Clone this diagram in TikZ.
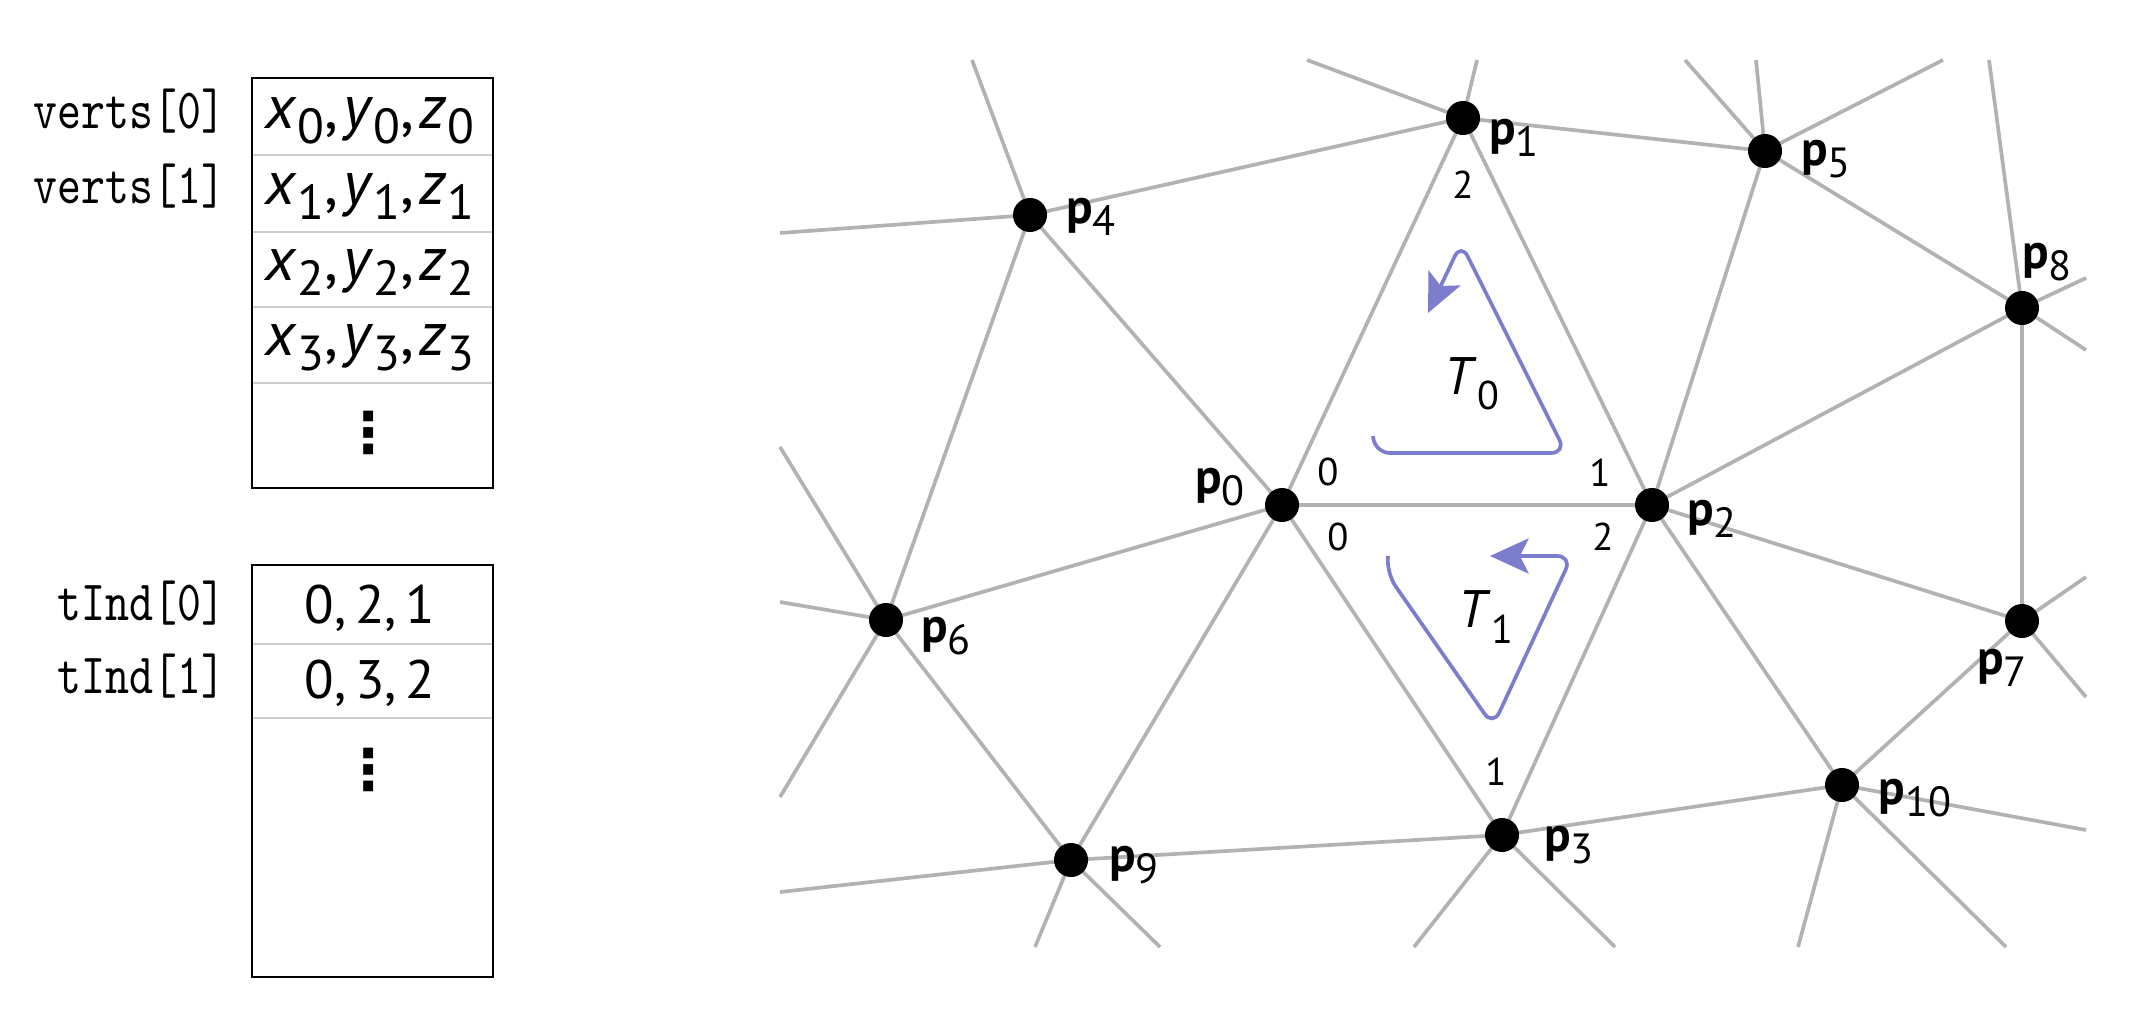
\documentclass[tikz,border=0pt]{standalone}
\usepackage{fontspec}
\setmainfont{PT Sans}
\newfontfamily\dotsfam{DejaVu Sans}
\newfontfamily\monofam[FakeStretch=0.8]{lmmono10-regular.otf}
\usetikzlibrary{arrows.meta}
\definecolor{edgegray}{RGB}{178,178,178}
\definecolor{flowc}{RGB}{125,125,205}
\definecolor{sepgray}{RGB}{205,205,205}
\newcommand{\plab}[1]{\textbf{p}\raisebox{-3.4pt}{\fontsize{12}{14}\selectfont #1}}
\newcommand{\tlab}[1]{\textit{T}\raisebox{-4.3pt}{\fontsize{11.4}{13}\selectfont #1}}
\newcommand{\xyzsub}[1]{\raisebox{-4.3pt}{\fontsize{14}{16}\selectfont #1}}
\newcommand{\xyzrow}[1]{\textit{x}\xyzsub{#1},\kern1.5pt\textit{y}\xyzsub{#1},\kern1.5pt\textit{z}\xyzsub{#1}}
\begin{document}
\begin{tikzpicture}[x=0.01cm, y=-0.01cm,
  edge/.style={draw=edgegray, line width=1.05pt},
  dot/.style={circle, fill=black, inner sep=0pt, minimum size=0.34cm},
  plabel/.style={inner sep=0pt, font=\fontsize{14}{16}\selectfont},
  corner/.style={inner sep=0pt, font=\fontsize{11}{13}\selectfont},
  tri/.style={inner sep=0pt, font=\fontsize{15}{18}\selectfont},
  flow/.style={draw=flowc, line width=1.05pt, rounded corners=0.15cm,
    -{Stealth[length=11pt,width=10pt,inset=2.5pt]}},
  boxline/.style={draw=black, line width=0.8pt},
  sepline/.style={draw=sepgray, line width=0.6pt},
  celltext/.style={inner sep=0pt, anchor=base, font=\fontsize{17.6}{20}\selectfont},
  idxtext/.style={inner sep=0pt, anchor=base, font=\fontsize{15.4}{18}\selectfont},
  monotext/.style={inner sep=0pt, anchor=base east, font=\monofam\fontsize{16.2}{18}\selectfont},
  dotstext/.style={inner sep=0pt, font=\dotsfam\bfseries\fontsize{16}{18}\selectfont}]
\useasboundingbox (0,0) rectangle (2134,1018);

% ---------- left: vertex table ----------
\draw[sepline] (252,155) -- (493,155);
\draw[sepline] (252,232) -- (493,232);
\draw[sepline] (252,307) -- (493,307);
\draw[sepline] (252,383) -- (493,383);
\draw[boxline] (252,78) rectangle (493,488);
\node[celltext] (v0) at (370,128) {\xyzrow{0}};
\node[celltext] (v1) at (370,204) {\xyzrow{1}};
\node[celltext] (v2) at (370,280) {\xyzrow{2}};
\node[celltext] (v3) at (370,355) {\xyzrow{3}};
\node[dotstext] (vd) at (369,433) {⋮};
\node[monotext] (lv0) at (226,128) {verts[0]};
\node[monotext] (lv1) at (226,203) {verts[1]};

% ---------- left: index table ----------
\draw[sepline] (252,644) -- (493,644);
\draw[sepline] (252,718) -- (493,718);
\draw[boxline] (252,565) rectangle (493,977);
\node[idxtext] (t0) at (370,623) {0,\,2,\,1};
\node[idxtext] (t1) at (370,698) {0,\,3,\,2};
\node[dotstext] (td) at (369,770) {⋮};
\node[monotext] (lt0) at (226,620) {tInd[0]};
\node[monotext] (lt1) at (226,693) {tInd[1]};

% ---------- mesh points ----------
\coordinate (p0) at (1282,505);
\coordinate (p1) at (1463,118);
\coordinate (p2) at (1652,505);
\coordinate (p3) at (1502,835);
\coordinate (p4) at (1030,215);
\coordinate (p5) at (1765,151);
\coordinate (p6) at (886,620);
\coordinate (p7) at (2022,621);
\coordinate (p8) at (2022,308);
\coordinate (p9) at (1071,860);
\coordinate (p10) at (1842,785);

% free ends at the border of the mesh window
\coordinate (b1) at (780,233);
\coordinate (b2) at (972,60);
\coordinate (b3) at (1307,60);
\coordinate (b4) at (1477,60);
\coordinate (b5) at (1685,60);
\coordinate (b6) at (1756,60);
\coordinate (b7) at (1943,60);
\coordinate (b8) at (1989,60);
\coordinate (b9) at (2086,278);
\coordinate (b10) at (2086,350);
\coordinate (b11) at (2086,577);
\coordinate (b12) at (2086,697);
\coordinate (b13) at (2086,830);
\coordinate (b14) at (1798,947);
\coordinate (b15) at (2006,947);
\coordinate (b16) at (1414,947);
\coordinate (b17) at (1615,947);
\coordinate (b18) at (1035,947);
\coordinate (b19) at (1160,947);
\coordinate (b20) at (780,892);
\coordinate (b21) at (780,602);
\coordinate (b22) at (780,447);
\coordinate (b23) at (780,797);

% internal edges
\foreach \a/\b in {p0/p1, p0/p2, p1/p2, p0/p3, p2/p3, p0/p4, p1/p4, p0/p6, p0/p9,
  p4/p6, p6/p9, p9/p3, p1/p5, p5/p2, p5/p8, p2/p8, p2/p7, p8/p7, p2/p10, p10/p3, p10/p7}
  \draw[edge] (\a) -- (\b);
% edges leaving the window
\foreach \a/\b in {p4/b1, p4/b2, p1/b3, p1/b4, p5/b5, p5/b6, p5/b7, p8/b8, p8/b9, p8/b10,
  p7/b11, p7/b12, p10/b13, p10/b14, p10/b15, p3/b16, p3/b17, p9/b18, p9/b19, p9/b20,
  p6/b21, p6/b22, p6/b23}
  \draw[edge] (\a) -- (\b);

% dots
\foreach \i in {0,...,10}
  \node[dot] (d\i) at (p\i) {};

% point labels
\node[plabel] (l0) at (1220,487) {\plab{0}};
\node[plabel] (l1) at (1514,138) {\plab{1}};
\node[plabel] (l2) at (1712,519) {\plab{2}};
\node[plabel] (l3) at (1569,845) {\plab{3}};
\node[plabel] (l4) at (1091,217) {\plab{4}};
\node[plabel] (l5) at (1826,159) {\plab{5}};
\node[plabel] (l6) at (946,636) {\plab{6}};
\node[plabel] (l7) at (2002,668) {\plab{7}};
\node[plabel] (l8) at (2047,262) {\plab{8}};
\node[plabel] (l9) at (1134,865) {\plab{9}};
\node[plabel] (l10) at (1915,798) {\plab{10}};

% corner indices
\node[corner] (c00) at (1328,472) {0};
\node[corner] (c10) at (1338,537) {0};
\node[corner] (c01) at (1600,473) {1};
\node[corner] (c12) at (1603,537) {2};
\node[corner] (c02) at (1463,185) {2};
\node[corner] (c11) at (1496,772) {1};

% triangle names
\node[tri] (T0) at (1472,384) {\tlab{0}};
\node[tri] (T1) at (1486,617) {\tlab{1}};

% winding arrows
\draw[flow] (1373,436) -- (1375,453) -- (1566,453) -- (1461,243) -- (1428,313);
\draw[flow] (1388,556) -- (1387,574) -- (1493,726) -- (1572,556) -- (1490,556);
\end{tikzpicture}
\end{document}
